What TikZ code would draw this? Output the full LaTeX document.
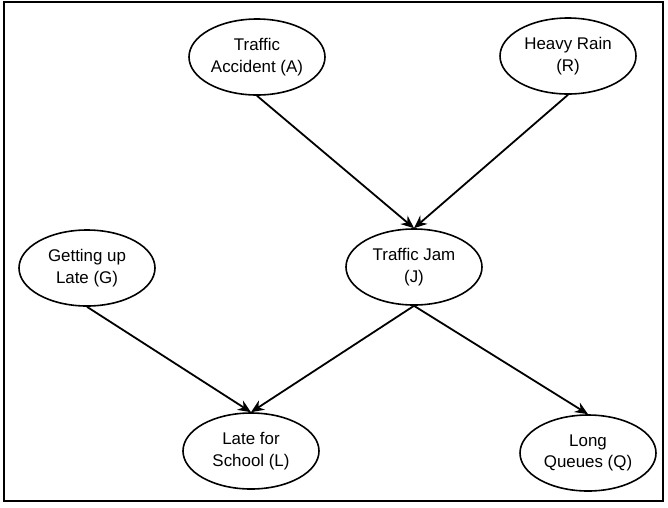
\documentclass[tikz,border=0pt]{standalone}
\usepackage{fontspec}
\setmainfont{Liberation Sans}
\usetikzlibrary{shapes.geometric, arrows.meta}

\begin{document}
\begin{tikzpicture}[x=1pt, y=-1pt,
                    event/.style={ellipse, draw, line width=1.6pt, minimum width=136pt, minimum height=76pt, inner sep=0pt, align=center, font=\fontsize{16.9}{21.7}\selectfont},
                    cause/.style={line width=1.8pt, -{Stealth[length=13pt, width=11pt]}}]
                        \useasboundingbox (0, 0) rectangle (668, 507);
                        \draw[line width=1.8pt] (4, 2) rectangle (663, 501);

                        \foreach \k/\i/\j/\t in {A/257/57/{Traffic\\Accident (A)}, R/568/56/{Heavy Rain\\(R)}, G/87/268/{Getting up\\Late (G)}, J/414/267/{Traffic Jam\\(J)}, L/251/451/{Late for\\School (L)}, Q/588/453/{Long\\Queues (Q)}} {
                            \node (\k) at (\i, \j) [event] {\t};
                        }

                        \draw[cause] (A.south) -- (J.north);
                        \draw[cause] (R.south) -- (J.north);
                        \draw[cause] (G.south) -- (L.north);
                        \draw[cause] (J.south) -- (L.north);
                        \draw[cause] (J.south) -- (Q.north);
                    \end{tikzpicture}
\end{document}
